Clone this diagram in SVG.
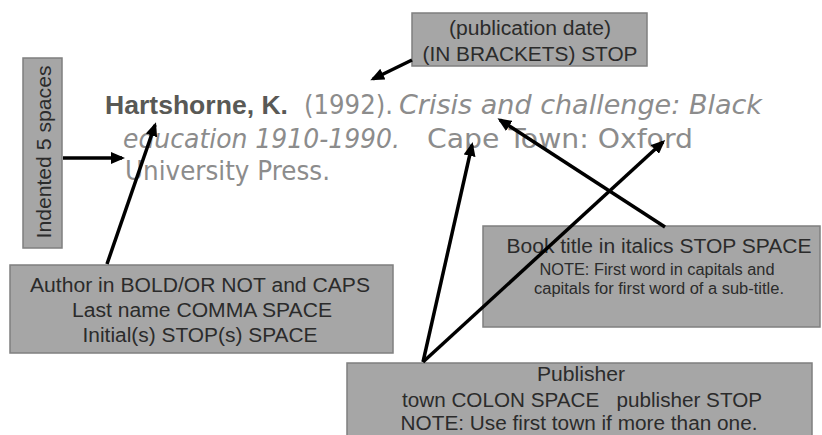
<svg xmlns="http://www.w3.org/2000/svg" width="822" height="435" viewBox="0 0 822 435">
<defs>
<style>
.box{fill:#a6a6a6;stroke:#7f7f7f;stroke-width:1.5}
.lbl{font-family:"Liberation Sans",Arial,sans-serif;fill:#2b2b2b;text-anchor:middle}
.cite{font-family:"DejaVu Sans","Liberation Sans",sans-serif;font-size:27px;fill:#8c8c8c}
.bold{font-family:"Liberation Sans",Arial,sans-serif;font-size:26.5px;font-weight:bold;fill:#595955}
.it{font-style:italic}
.conn{stroke:#000;stroke-width:3.5;fill:none;marker-end:url(#ah)}
</style>
<marker id="ah" markerUnits="userSpaceOnUse" markerWidth="14" markerHeight="12" refX="11" refY="6" orient="auto">
<path d="M0,0 L14,6 L0,12 z" fill="#000"/>
</marker>
</defs>
<rect width="822" height="435" fill="#fff"/>

<g id="citation">
<text class="cite bold" x="105" y="114" textLength="183" lengthAdjust="spacingAndGlyphs">Hartshorne, K.</text>
<text class="cite" x="304" y="114" textLength="89" lengthAdjust="spacingAndGlyphs">(1992).</text>
<text class="cite it" x="399" y="114" textLength="363" lengthAdjust="spacingAndGlyphs">Crisis and challenge: Black</text>
<text class="cite it" x="123" y="148" textLength="277" lengthAdjust="spacingAndGlyphs">education 1910-1990.</text>
<text class="cite" x="427" y="148" textLength="266" lengthAdjust="spacingAndGlyphs">Cape Town: Oxford</text>
<text class="cite" x="125" y="180" textLength="205" lengthAdjust="spacingAndGlyphs">University Press.</text>
</g>

<g id="date-box">
<rect class="box" x="412" y="13" width="235" height="53"/>
<text class="lbl" x="530" y="35" font-size="20" textLength="162" lengthAdjust="spacingAndGlyphs">(publication date)</text>
<text class="lbl" x="530" y="61" font-size="20" textLength="215" lengthAdjust="spacingAndGlyphs">(IN BRACKETS) STOP</text>
</g>

<g id="indent-box">
<rect class="box" x="23" y="58" width="39" height="190"/>
<text class="lbl" transform="translate(51,152) rotate(-90)" font-size="20" textLength="173" lengthAdjust="spacingAndGlyphs">Indented 5 spaces</text>
</g>

<g id="author-box">
<rect class="box" x="10" y="265" width="383" height="88"/>
<text class="lbl" x="200" y="292" font-size="20" textLength="340" lengthAdjust="spacingAndGlyphs">Author in BOLD/OR NOT and CAPS</text>
<text class="lbl" x="202" y="317" font-size="20" textLength="260" lengthAdjust="spacingAndGlyphs">Last name COMMA SPACE</text>
<text class="lbl" x="200" y="342" font-size="20" textLength="235" lengthAdjust="spacingAndGlyphs">Initial(s) STOP(s) SPACE</text>
</g>

<g id="title-box">
<rect class="box" x="483" y="226" width="337" height="101"/>
<text class="lbl" x="659" y="253" font-size="20" textLength="305" lengthAdjust="spacingAndGlyphs">Book title in italics STOP SPACE</text>
<text class="lbl" x="657" y="275" font-size="16" textLength="235" lengthAdjust="spacingAndGlyphs">NOTE: First word in capitals and</text>
<text class="lbl" x="659" y="294" font-size="16" textLength="250" lengthAdjust="spacingAndGlyphs">capitals for first word of a sub-title.</text>
</g>

<g id="publisher-box">
<rect class="box" x="347" y="363" width="465" height="80"/>
<text class="lbl" x="581" y="381" font-size="20" textLength="88" lengthAdjust="spacingAndGlyphs">Publisher</text>
<text class="lbl" x="582" y="407" font-size="20" textLength="360" lengthAdjust="spacingAndGlyphs" xml:space="preserve">town COLON SPACE   publisher STOP</text>
<text class="lbl" x="579" y="430" font-size="20" textLength="357" lengthAdjust="spacingAndGlyphs">NOTE: Use first town if more than one.</text>
</g>

<g id="connectors">
<line class="conn" x1="412" y1="60" x2="373" y2="79"/>
<line class="conn" x1="63" y1="158" x2="122" y2="158"/>
<line class="conn" x1="107" y1="264" x2="155" y2="125"/>
<line class="conn" x1="665" y1="227" x2="500" y2="120"/>
<line class="conn" x1="423" y1="362" x2="472" y2="145"/>
<line class="conn" x1="423" y1="362" x2="663" y2="142"/>
</g>
</svg>
